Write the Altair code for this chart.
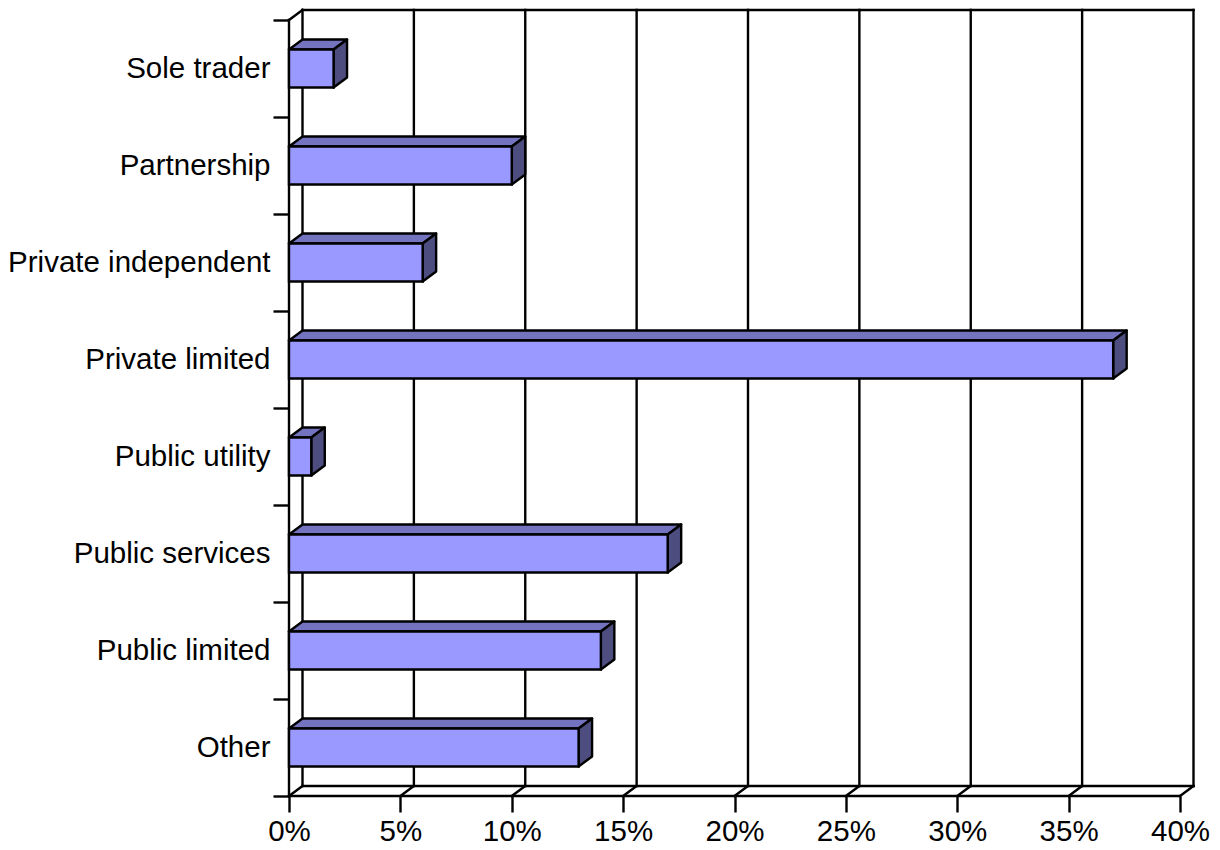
import json
import altair as alt
import pandas as pd

# ---- data ----
categories = ["Sole trader", "Partnership", "Private independent", "Private limited",
              "Public utility", "Public services", "Public limited", "Other\u00a0"]
shares = [2, 10, 6, 37, 1, 17, 14, 13]          # percent
tick_values = [0, 5, 10, 15, 20, 25, 30, 35, 40]

# ---- geometry / style constants ----
X_MAX = 40
PX_PER_PCT = 22.275
DEPTH_X_PX = 13.5
DEPTH_Y_PX = 10
BAND_PX = 97
BAR_PX = 38
N = len(categories)
DX = DEPTH_X_PX / PX_PER_PCT
DY = DEPTH_Y_PX / BAND_PX
H = BAR_PX / BAND_PX / 2
W = (X_MAX + DX) * PX_PER_PCT
HGT = (N + DY) * BAND_PX
FONT = "Liberation Sans"
FSIZE = 29.5
LW = 2.4
FRONT = "#9999FF"
TOP = "#7373BF"
SIDE = "#4D4D80"

xscale = alt.Scale(domain=[0, X_MAX + DX], nice=False, zero=False)
yscale = alt.Scale(domain=[0, N + DY], nice=False, zero=False)
x_axis = alt.Axis(values=tick_values, labelExpr="datum.value + '%'", tickSize=16, tickWidth=LW,
                  tickColor="black", domain=False, grid=False, labelFontSize=FSIZE, labelFont=FONT,
                  labelColor="black", labelPadding=5, labelFlush=False, labelOverlap=False,
                  labelLimit=400, title=None)
label_list = [""] + categories[::-1]
y_axis = alt.Axis(values=list(range(N + 1)), labelExpr=json.dumps(label_list) + "[datum.value]",
                  tickSize=16, tickWidth=LW, tickColor="black", domain=False, grid=False,
                  labelFontSize=FSIZE, labelFont=FONT, labelColor="black", labelPadding=3,
                  labelOffset=BAND_PX / 2, labelOverlap=False, labelFlush=False,
                  labelLimit=400, title=None)

# ---- wall / floor lines ----
lines = []
for p in tick_values:
    lines.append(dict(x=p + DX, x2=p + DX, y=DY, y2=N + DY))   # back-wall gridlines
    lines.append(dict(x=p, x2=p + DX, y=0, y2=DY))             # floor diagonals
lines.append(dict(x=DX, x2=X_MAX + DX, y=N + DY, y2=N + DY))   # back top edge
lines.append(dict(x=DX, x2=X_MAX + DX, y=DY, y2=DY))           # back bottom edge
lines.append(dict(x=0, x2=0, y=0, y2=N))                       # front left axis
lines.append(dict(x=0, x2=DX, y=N, y2=N + DY))                 # top-left diagonal
lines.append(dict(x=0, x2=X_MAX, y=0, y2=0))                   # front floor line
lines_df = pd.DataFrame(lines)

# ---- bar faces ----
front_rows, top_rows, side_rows = [], [], []
for i, (cat, v) in enumerate(zip(categories, shares)):
    c = N - i - 0.5
    yb, yt = c - H, c + H
    front_rows.append(dict(id=cat, x=0, x2=v, y=yb, y2=yt))
    top_rows.append(dict(id=cat, y=yt, x=0, x2=v))
    top_rows.append(dict(id=cat, y=yt + DY, x=DX, x2=v + DX))
    side_rows.append(dict(id=cat, x=v, y=yb, y2=yt))
    side_rows.append(dict(id=cat, x=v + DX, y=yb + DY, y2=yt + DY))
front_df = pd.DataFrame(front_rows)
top_df = pd.DataFrame(top_rows)
side_df = pd.DataFrame(side_rows)

X = lambda f: alt.X(f, scale=xscale, axis=x_axis)
Y = lambda f: alt.Y(f, scale=yscale, axis=y_axis)

walls = alt.Chart(lines_df).mark_rule(color="black", strokeWidth=LW, strokeCap="square").encode(
    x=X("x:Q"), x2="x2:Q", y=Y("y:Q"), y2="y2:Q")

top = alt.Chart(top_df).mark_area(orient="horizontal", color=TOP, stroke="black",
                                  strokeWidth=LW, opacity=1, strokeJoin="round").encode(
    y=Y("y:Q"), x=X("x:Q"), x2="x2:Q", detail="id:N")

side = alt.Chart(side_df).mark_area(orient="vertical", color=SIDE, stroke="black",
                                    strokeWidth=LW, opacity=1, strokeJoin="round").encode(
    x=X("x:Q"), y=Y("y:Q"), y2="y2:Q", detail="id:N")

front = alt.Chart(front_df).mark_rect(color=FRONT, stroke="black", strokeWidth=LW).encode(
    x=X("x:Q"), x2="x2:Q", y=Y("y:Q"), y2="y2:Q")

chart = alt.layer(walls, top, side, front).properties(
    width=W, height=HGT,
    padding={"left": 7, "top": 8, "right": 5, "bottom": 5},
    background="white",
).configure_view(stroke=None)

chart.save("out.html", embed_options={"renderer": "svg", "actions": False})
